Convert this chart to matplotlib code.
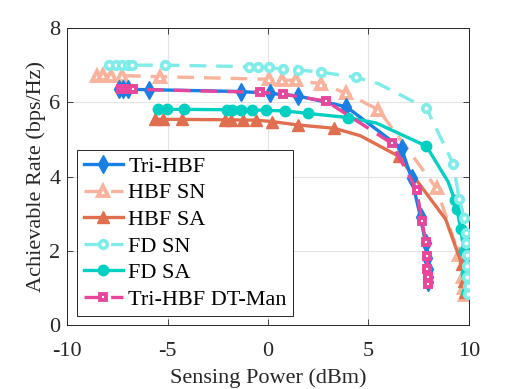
import matplotlib.pyplot as plt

plt.rcParams['font.family'] = ['Liberation Serif', 'DejaVu Serif']
plt.rcParams['font.size'] = 16
plt.rcParams['axes.unicode_minus'] = False

# sensing power (dBm) / achievable rate (bps/Hz)
tri_x = [-7.45, -7.25, -7.0, -5.95, -1.35, 0.1, 1.5, 3.9, 6.65, 7.15, 7.6, 7.85, 7.9, 7.95, 7.97, 7.98]
tri_y = [6.37, 6.36, 6.35, 6.34, 6.29, 6.24, 6.17, 5.88, 4.76, 3.95, 2.9, 2.2, 1.8, 1.5, 1.3, 1.15]

hbf_sn_x = [-8.5, -8.2, -7.8, -7.3, -5.4, 0.05, 0.7, 1.4, 2.65, 3.9, 5.5, 8.4, 9.5, 9.7, 9.75, 9.8]
hbf_sn_y = [6.72, 6.74, 6.72, 6.72, 6.69, 6.62, 6.6, 6.59, 6.5, 6.24, 5.8, 3.68, 1.9, 1.3, 1.0, 0.8]

hbf_sa_x = [-5.64, -5.22, -4.31, -2.16, -1.83, -1.25, -0.58, 0.22, 1.5, 3.3, 4.6, 6.5, 8.85, 9.64, 9.75, 9.8]
hbf_sa_y = [5.54, 5.54, 5.54, 5.53, 5.53, 5.52, 5.52, 5.48, 5.39, 5.3, 5.1, 4.55, 2.85, 1.66, 1.2, 0.9]

fd_sn_x = [-7.9, -7.6, -7.3, -7.0, -6.8, -5.15, -0.95, -0.5, 0.05, 0.72, 1.5, 2.66, 4.4, 5.5, 7.89, 9.22,
           9.52, 9.77, 9.85, 9.88, 9.9, 9.92, 9.93, 9.94, 9.95]
fd_sn_y = [7.0, 7.0, 7.0, 7.0, 7.0, 7.0, 6.96, 6.96, 6.94, 6.89, 6.87, 6.81, 6.67, 6.5, 5.84, 4.35,
           3.41, 2.88, 2.47, 2.2, 1.9, 1.6, 1.3, 1.05, 0.85]

fd_sa_x = [-5.48, -5.03, -4.2, -2.07, -1.82, -1.33, -0.8, -0.08, 0.83, 1.99, 3.98, 5.4, 7.89, 8.97, 9.3, 9.4,
           9.6, 9.75, 9.85, 9.9]
fd_sa_y = [5.81, 5.81, 5.81, 5.8, 5.8, 5.8, 5.8, 5.78, 5.77, 5.7, 5.59, 5.44, 4.82, 3.86, 3.37, 3.14,
           2.6, 2.0, 1.4, 0.9]

dt_x = [-7.35, -7.15, -6.95, -6.75, -0.4, 0.75, 2.9, 6.15, 7.4, 7.67, 7.85, 7.92, 7.94, 7.96, 7.97]
dt_y = [6.35, 6.35, 6.35, 6.35, 6.27, 6.22, 6.03, 4.9, 3.65, 2.8, 2.25, 1.85, 1.5, 1.3, 1.12]

c_blue = '#1a7fe2'
c_salmon = '#f9b29c'
c_orange = '#e06f4f'
c_cyan = '#80ecea'
c_teal = '#00cfc1'
c_pink = '#e8469b'

dash = (0, (5, 3))

fig = plt.figure(figsize=(5.18, 3.89), dpi=100)
ax = fig.add_axes([0.130, 0.164, 0.775, 0.764])

ax.plot(tri_x, tri_y, color=c_blue, lw=2.4, marker='d', ms=9, label='Tri-HBF', zorder=3)
ax.plot(hbf_sn_x, hbf_sn_y, color=c_salmon, lw=2.4, ls=dash, marker='^', ms=6.5,
        mfc='white', mew=2.8, label='HBF SN', zorder=2)
ax.plot(hbf_sa_x, hbf_sa_y, color=c_orange, lw=2.4, marker='^', ms=8,
        markevery=[i for i in range(len(hbf_sa_x)) if i not in (10, 12)], label='HBF SA', zorder=2)
ax.plot(fd_sn_x, fd_sn_y, color=c_cyan, lw=2.4, ls=dash, marker='o', ms=5.5,
        mfc='white', mew=2.6, markevery=[i for i in range(len(fd_sn_x)) if i != 13],
        label='FD SN', zorder=4)
ax.plot(fd_sa_x, fd_sa_y, color=c_teal, lw=2.4, marker='o', ms=7.5,
        markevery=[i for i in range(len(fd_sa_x)) if i not in (11, 13)], label='FD SA', zorder=3)
ax.plot(dt_x, dt_y, color=c_pink, lw=2.4, ls=dash, marker='s', ms=5,
        mfc='white', mew=2.8, label='Tri-HBF DT-Man', zorder=3.5)

ax.set_xlim(-10, 10)
ax.set_ylim(0, 8)
ax.set_xticks([-10, -5, 0, 5, 10])
ax.set_yticks([0, 2, 4, 6, 8])
ax.grid(True, color='#e3e3e3', lw=0.8)
ax.set_axisbelow(True)
ax.tick_params(direction='in', length=4, width=0.6, top=True, right=True, colors='#262626',
               labelcolor='#262626')
ax.tick_params(axis='x', pad=12)
ax.tick_params(axis='y', pad=5)
for s in ax.spines.values():
    s.set_color('#262626')
    s.set_linewidth(0.7)

ax.set_xlabel('Sensing Power (dBm)', color='#262626', labelpad=5)
ax.set_ylabel('Achievable Rate (bps/Hz)', color='#262626', labelpad=2)

leg = ax.legend(loc='lower left', bbox_to_anchor=(0.024, 0.03), borderaxespad=0,
                fancybox=False, framealpha=1, edgecolor='#262626', handlelength=1.75,
                handletextpad=0.25, labelspacing=0.27, borderpad=0.3, fontsize=16)
leg.get_frame().set_linewidth(0.7)

fig.savefig('out.png', dpi=100)
